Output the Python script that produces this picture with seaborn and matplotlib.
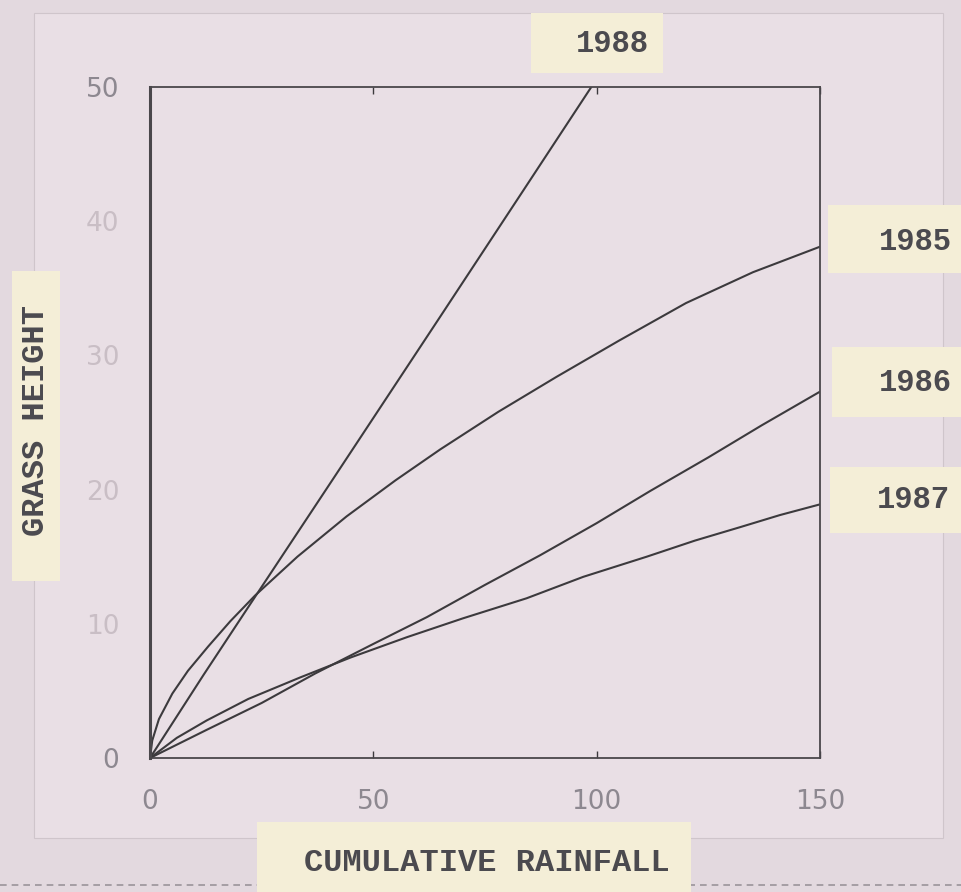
import matplotlib
matplotlib.use('Agg')

import matplotlib.pyplot as plt
import matplotlib.patches as mpatches
import seaborn as sns
import pandas as pd

# =========================================================
# DATA
# =========================================================

rain_1985 = [0, 0.5, 2, 5, 8.5, 13, 18, 23.5, 33, 44, 55, 65, 78, 91, 105, 120, 135, 150]
grass_1985 = [0, 1.3, 2.9, 4.8, 6.5, 8.3, 10.2, 12.1, 15.0, 18.0, 20.7, 23.0, 25.8,
              28.4, 31.1, 33.9, 36.2, 38.1]

rain_1986 = [0, 12.7, 25, 37, 50, 62, 75, 87.3, 100, 112, 125, 137, 150]
grass_1986 = [0, 2.1, 4.1, 6.3, 8.5, 10.5, 12.9, 15.1, 17.5, 19.9, 22.4, 24.8, 27.3]

rain_1987 = [0, 6, 12.7, 22, 33.6, 45, 57.5, 70, 84.3, 97, 111.2, 122, 132.1, 141, 150]
grass_1987 = [0, 1.5, 2.8, 4.4, 6.0, 7.5, 9.0, 10.4, 11.9, 13.5, 15.0, 16.2, 17.2, 18.1, 18.9]

rain_1988 = [0, 12, 23.5, 41, 65, 83, 99]
grass_1988 = [0, 6.2, 12.0, 20.8, 32.9, 42.0, 50.1]

years = ['1985', '1986', '1987', '1988']
x_ticks = [0, 50, 100, 150]
y_ticks = [0, 10, 20, 30, 40, 50]

frames = []
for yr, xs, ys in zip(years,
                      [rain_1985, rain_1986, rain_1987, rain_1988],
                      [grass_1985, grass_1986, grass_1987, grass_1988]):
    frames.append(pd.DataFrame({'rainfall': xs, 'height': ys, 'year': yr}))
df = pd.concat(frames, ignore_index=True)

# =========================================================
# STYLE
# =========================================================

sns.set_style('white')
plt.rcParams['font.family'] = ['DejaVu Sans']

paper = '#e9dfe5'
strip = '#f4eed7'
ink = '#3c3a3d'
label_font = ['Liberation Mono', 'DejaVu Sans Mono']

fig = plt.figure(figsize=(9.62, 8.92), dpi=100)
fig.patch.set_facecolor('#e3d9df')

# the paper sheet behind the plot
sheet = mpatches.Rectangle((0.035, 0.06), 0.945, 0.925, transform=fig.transFigure,
                           facecolor=paper, edgecolor='#cfc5cb', linewidth=0.8, zorder=-5)
fig.patches.append(sheet)
fig.add_artist(plt.Line2D([0, 1], [0.008, 0.008], transform=fig.transFigure,
                          color='#9a949a', linestyle=(0, (4, 3)), linewidth=1.2,
                          zorder=-4))

ax = fig.add_axes([150 / 962, 1 - 758 / 892, 670 / 962, 671 / 892])
ax.set_zorder(1)
ax.set_facecolor(paper)

sns.lineplot(data=df, x='rainfall', y='height', hue='year', sort=False,
             palette={y: ink for y in years}, linewidth=1.5, legend=False,
             estimator=None, ax=ax)

ax.set_xlim(0, 150)
ax.set_ylim(0, 50)
ax.set_xlabel('')
ax.set_ylabel('')

ax.set_xticks(x_ticks)
ax.set_xticklabels([str(v) for v in x_ticks])
ax.set_yticks(y_ticks)
ax.set_yticklabels([str(v) for v in y_ticks])

ax.tick_params(axis='x', direction='in', length=5, width=1, color=ink,
               top=True, bottom=True, pad=22, labelsize=19, labelcolor='#8d8890')
ax.tick_params(axis='y', length=0, pad=22, labelsize=19, labelcolor='#8d8890')
for lbl, v in zip(ax.get_yticklabels(), y_ticks):
    if v not in (0, 50):
        lbl.set_color('#c9bec5')

for side in ['top', 'right', 'bottom']:
    ax.spines[side].set_color('#4a474b')
    ax.spines[side].set_linewidth(1.3)
ax.spines['left'].set_color('#4a474b')
ax.spines['left'].set_linewidth(2.2)

# =========================================================
# PAPER STRIP LABELS
# =========================================================

def paper_label(text, x0, y0, x1, y1, tx, ty, size=22, rotation=0):
    # coordinates in pixels from the top-left corner
    fig.patches.append(mpatches.Rectangle(
        (x0 / 962, 1 - y1 / 892), (x1 - x0) / 962, (y1 - y0) / 892,
        transform=fig.transFigure, facecolor=strip, edgecolor='none', zorder=3))
    fig.text(tx / 962, 1 - ty / 892, text, family=label_font, fontweight='bold',
             fontsize=size, color='#4b4a4f', ha='center', va='center',
             rotation=rotation, zorder=4)

paper_label('1988', 531, 13, 663, 73, 612, 44)
paper_label('1985', 828, 205, 962, 273, 915, 242)
paper_label('1986', 832, 347, 962, 417, 915, 383)
paper_label('1987', 830, 467, 962, 533, 913, 500)
paper_label('GRASS HEIGHT', 12, 271, 60, 581, 36, 420, size=23, rotation=90)
paper_label('CUMULATIVE RAINFALL', 257, 822, 691, 892, 487, 863, size=23)

fig.savefig('out.png', dpi=100, facecolor=fig.get_facecolor())
